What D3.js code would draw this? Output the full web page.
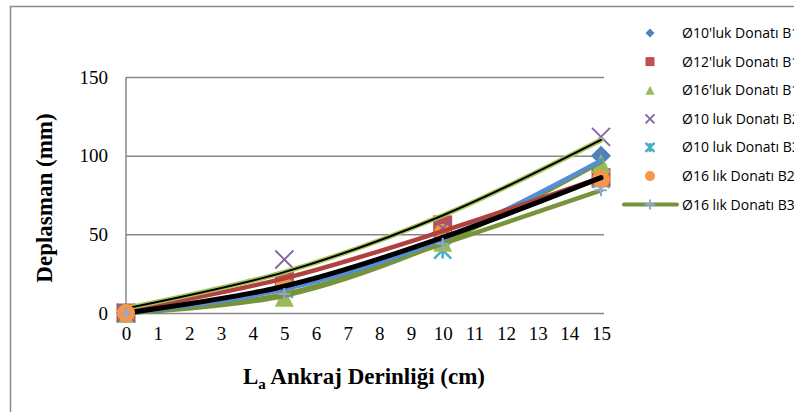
<!DOCTYPE html>
<html>
<head>
<meta charset="utf-8">
<script src="https://cdn.jsdelivr.net/npm/d3@7"></script>
<style>
  body { margin: 0; background: #fff; overflow: hidden; }
  svg { display: block; }
</style>
</head>
<body>
<div id="chart"></div>
<script>
// data
var depth = [0, 5, 10, 15];
var d10B1 = [0, 16, 47, 100];
var d12B1 = [0, 20, 56, 86];
var d16B1 = [0, 10, 45, 95];
var d10B2 = [0, 34, 54, 112];
var d10B3 = [0, 15, 40, 85];
var d16B2 = [0, 17, 51, 85];
var d16B3 = [0, 12, 44, 78];

// trend lines (values at the same depths)
var trendB2 = [3, 26, 62, 110];
var trendRed = [1.5, 22, 52, 86];
var trendBlue = [0, 15, 47, 97];
var trendBlack = [0, 17, 48, 86];
var trendGreen = [0, 11, 45, 96];

var legendNames = ["Ø10'luk Donatı B1", "Ø12'luk Donatı B1", "Ø16'luk Donatı B1",
    "Ø10 luk Donatı B2", "Ø10 luk Donatı B3", "Ø16 lık Donatı B2", "Ø16 lık Donatı B3"];
var yTicks = [0, 50, 100, 150];
var xTicks = d3.range(0, 16);

var W = 794, H = 412;
var svg = d3.select("#chart").append("svg").attr("width", W).attr("height", H);

// outer chart border
svg.append("rect").attr("x", 10.5).attr("y", 6.5).attr("width", 800).attr("height", 420)
    .attr("fill", "none").attr("stroke", "#8c8c8c").attr("stroke-width", 1.5);

var x_scale = d3.scaleLinear().domain([0, 15]).range([126, 601]);
var y_scale = d3.scaleLinear().domain([0, 150]).range([313, 77]);

// gridlines + y labels
var yAxis = svg.append("g").attr("transform", "translate(126,0)")
    .call(d3.axisLeft(y_scale).tickValues(yTicks).tickSize(-478).tickPadding(18));
yAxis.select(".domain").remove();
yAxis.selectAll("line").attr("stroke", "#878787").attr("stroke-width", 1.5);
yAxis.selectAll("text").style("font-family", "'Liberation Serif', serif").style("font-size", "19px")
    .attr("fill", "#000");

// vertical axis line
svg.append("line").attr("x1", x_scale(0)).attr("x2", x_scale(0))
    .attr("y1", y_scale(150)).attr("y2", y_scale(0))
    .attr("stroke", "#878787").attr("stroke-width", 1.5);

// x labels
var xAxis = svg.append("g").attr("transform", "translate(0," + y_scale(0) + ")")
    .call(d3.axisBottom(x_scale).tickValues(xTicks).tickSize(0).tickPadding(14));
xAxis.select(".domain").remove();
xAxis.selectAll("text").style("font-family", "'Liberation Serif', serif").style("font-size", "19px")
    .attr("fill", "#000");

// axis titles
var xt = svg.append("text").attr("x", 364).attr("y", 384).attr("text-anchor", "middle")
    .style("font-family", "'Liberation Serif', serif").style("font-size", "23px").style("font-weight", "bold");
xt.append("tspan").text("L");
xt.append("tspan").attr("dy", 5).style("font-size", "15px").text("a");
xt.append("tspan").attr("dy", -5).text(" Ankraj Derinliği (cm)");

svg.append("text").attr("transform", "translate(52,198)rotate(-90)").attr("text-anchor", "middle")
    .style("font-family", "'Liberation Serif', serif").style("font-size", "23px").style("font-weight", "bold")
    .text("Deplasman (mm)");

// marker shapes
function drawMarker(g, kind, size) {
    var s = size;
    if (kind == "diamond") {
        g.append("path").attr("d", "M0," + (-s / 2) + "L" + (s / 2) + ",0L0," + (s / 2) + "L" + (-s / 2) + ",0Z").attr("fill", "#4f81bd");
    } else if (kind == "square") {
        g.append("rect").attr("x", -s / 2).attr("y", -s / 2).attr("width", s).attr("height", s).attr("fill", "#c0504d");
    } else if (kind == "triangle") {
        g.append("path").attr("d", "M0," + (-s / 2) + "L" + (s / 2) + "," + (s / 2) + "L" + (-s / 2) + "," + (s / 2) + "Z").attr("fill", "#9bbb59");
    } else if (kind == "cross") {
        g.append("path").attr("d", "M" + (-s / 2) + "," + (-s / 2) + "L" + (s / 2) + "," + (s / 2) + "M" + (s / 2) + "," + (-s / 2) + "L" + (-s / 2) + "," + (s / 2))
            .attr("stroke", "#8064a2").attr("stroke-width", 1.8);
    } else if (kind == "star") {
        g.append("path").attr("d", "M" + (-s / 2) + "," + (-s / 2) + "L" + (s / 2) + "," + (s / 2) + "M" + (s / 2) + "," + (-s / 2) + "L" + (-s / 2) + "," + (s / 2) + "M0," + (-s / 2) + "L0," + (s / 2))
            .attr("stroke", "#4bacc6").attr("stroke-width", 2.5);
    } else if (kind == "circle") {
        g.append("circle").attr("r", s / 2).attr("fill", "#f79646");
    } else if (kind == "plus") {
        g.append("path").attr("d", "M" + (-s / 2) + ",0L" + (s / 2) + ",0M0," + (-s / 2) + "L0," + (s / 2))
            .attr("stroke", "#8ea9d8").attr("stroke-width", 2);
    }
}

var scatter = [
    { vals: d12B1, kind: "square", size: 19 },
    { vals: d10B3, kind: "star", size: 17 },
    { vals: d10B1, kind: "diamond", size: 20 },
    { vals: d16B1, kind: "triangle", size: 19 },
    { vals: d16B2, kind: "circle", size: 18 },
    { vals: d10B2, kind: "cross", size: 18 }
];
scatter.forEach(function (s) {
    s.vals.forEach(function (v, i) {
        var g = svg.append("g").attr("transform", "translate(" + x_scale(depth[i]) + "," + y_scale(v) + ")");
        drawMarker(g, s.kind, s.size);
    });
});

// lines
var line = d3.line()
    .x(function (d, i) { return x_scale(depth[i]); })
    .y(function (d) { return y_scale(d); })
    .curve(d3.curveCatmullRom);

function addLine(vals, color, w) {
    svg.append("path").attr("d", line(vals)).attr("fill", "none")
        .attr("stroke", color).attr("stroke-width", w).attr("stroke-linecap", "round");
}
addLine(d16B3, "#77933c", 4.5);
addLine(trendGreen, "#77933c", 4.5);
addLine(trendBlue, "#558ed5", 4.5);
addLine(trendRed, "#b0413e", 4.5);
addLine(trendBlack, "#000", 5);
addLine(trendB2, "#a6c35c", 5);
addLine(trendB2, "#000", 2);

// orange circle shows on top at the origin
var g0 = svg.append("g").attr("transform", "translate(" + x_scale(depth[0]) + "," + y_scale(d16B2[0]) + ")");
drawMarker(g0, "circle", 18);

// plus markers of the line series
d16B3.forEach(function (v, i) {
    var g = svg.append("g").attr("transform", "translate(" + x_scale(depth[i]) + "," + y_scale(v) + ")");
    drawMarker(g, "plus", 12);
});

// legend
var kinds = ["diamond", "square", "triangle", "cross", "star", "circle", "plus"];
var legend = svg.append("g");
legendNames.forEach(function (name, i) {
    var y = 33 + i * 28.6;
    if (kinds[i] == "plus") {
        legend.append("line").attr("x1", 624).attr("x2", 677).attr("y1", y).attr("y2", y)
            .attr("stroke", "#77933c").attr("stroke-width", 4).attr("stroke-linecap", "round");
    }
    var g = legend.append("g").attr("transform", "translate(650," + y + ")");
    drawMarker(g, kinds[i], kinds[i] == "circle" ? 10 : (kinds[i] == "plus" ? 10 : 9));
    legend.append("text").attr("x", 682).attr("y", y + 5)
        .style("font-family", "'Open Sans', sans-serif").style("font-size", "14px")
        .attr("fill", "#000").text(name);
});
</script>
</body>
</html>
